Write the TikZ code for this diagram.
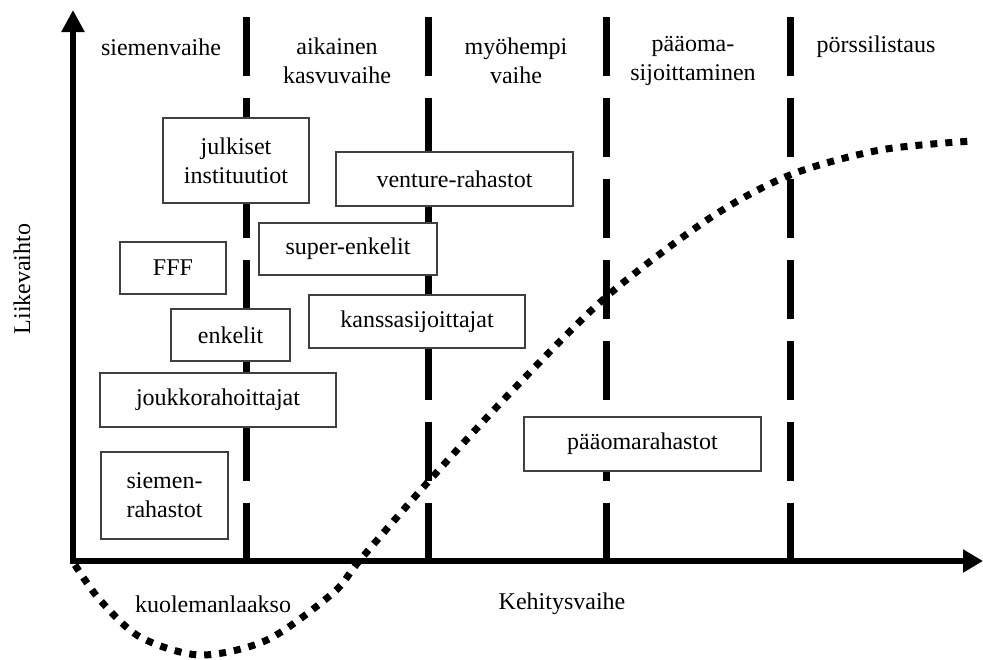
\documentclass[tikz,border=0pt]{standalone}
\usepackage{fontspec}
\setmainfont{Liberation Serif}
\usetikzlibrary{arrows.meta}
\tikzset{
	laatikko/.style={draw=black!75, line width=0.7pt, fill=white,
		align=center, inner sep=0pt},
	raja/.style={line width=3.5pt, dash pattern=on 29.5pt off 11pt},
	akseli/.style={line width=3pt, line join=miter,
		{Triangle[width=11pt,length=11pt]}-{Triangle[width=11pt,length=10pt]}},
	kayra/.style={line width=3.5pt, dash pattern=on 3.5pt off 4pt},
}
\begin{document}
\begin{tikzpicture}[x=0.5pt, y=-0.5pt, font=\fontsize{12}{14.5}\selectfont]
\useasboundingbox (0,0) rectangle (983,659);
\foreach \x in {246,428,606,790} \draw[raja]
	(\x,17) -- (\x,560);
\coordinate (ytop) at (73,10);
\coordinate (o) at (73,561);
\coordinate (xend) at (983,561);
\draw[akseli] (ytop) -- (o) -- (xend);
\draw[kayra] plot[smooth] coordinates {
	(75,565) (100,600) (140,637) (200,655) (267,640) (333,593)
	(360,560) (428,482) (510,393) (606,297) (710,218) (790,175)
	(880,150) (972,141)};
\node (v1) at (161,47) {siemenvaihe};
\node[align=center] (v2) at (337,61) {aikainen\\kasvuvaihe};
\node[align=center] (v3) at (516,61) {myöhempi\\vaihe};
\node[align=center] (v4) at (693,61) {pääoma-\\sijoittaminen};
\node (v5) at (876,47) {pörssilistaus};
\node[rotate=90] (lv) at (22,279) {Liikevaihto};
\node (kv) at (562,604) {Kehitysvaihe};
\node (kl) at (213,604) {kuolemanlaakso};
\node[laatikko, minimum width=73pt, minimum height=42.5pt]
	(julk) at (236,160.5) {julkiset\\instituutiot};
\node[laatikko, minimum width=118.5pt, minimum height=27pt]
	(vent) at (454.5,179) {venture-rahastot};
\node[laatikko, minimum width=89pt, minimum height=26pt]
	(super) at (348,249) {super-enkelit};
\node[laatikko, minimum width=53pt, minimum height=26pt]
	(fff) at (173,268) {FFF};
\node[laatikko, minimum width=59.5pt, minimum height=26pt]
	(enk) at (230.5,335) {enkelit};
\node[laatikko, minimum width=108pt, minimum height=26.5pt]
	(kanssa) at (417,321.5) {kanssasijoittajat};
\node[laatikko, minimum width=118pt, minimum height=27pt]
	(joukko) at (218,400) {joukkorahoittajat};
\node[laatikko, minimum width=63.5pt, minimum height=43.5pt]
	(siemen) at (164.5,495.5) {siemen-\\rahastot};
\node[laatikko, minimum width=118.5pt, minimum height=27pt]
	(paaoma) at (642.5,444) {pääomarahastot};
\end{tikzpicture}
\end{document}
